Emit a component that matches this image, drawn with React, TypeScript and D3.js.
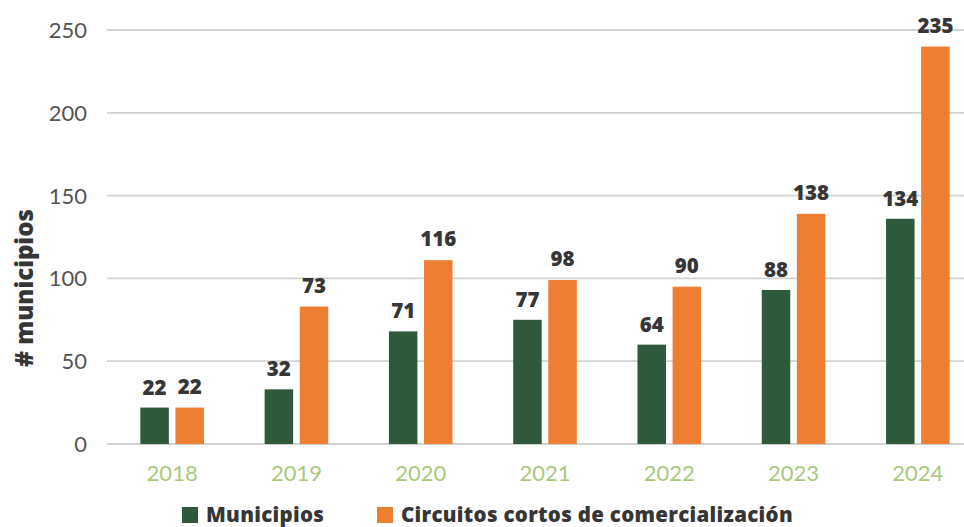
import React from 'react';
import * as d3 from 'd3';

// values
const years = ['2018', '2019', '2020', '2021', '2022', '2023', '2024'];
// printed labels
const municipiosLabels = [22, 32, 71, 77, 64, 88, 134];
const circuitosLabels = [22, 73, 116, 98, 90, 138, 235];
// drawn bar heights (the source bars don't match the labels exactly)
const municipiosBars = [22, 33, 68, 75, 60, 93, 136];
const circuitosBars = [22, 83, 111, 99, 95, 139, 240];
const yTicks = [0, 50, 100, 150, 200, 250];
const seriesNames = ['Municipios', 'Circuitos cortos de comercialización'];

const GREEN = '#2e5a3b';
const ORANGE = '#ee7e31';
const TEXT = '#363636';

const width = 964;
const height = 527;

const App: React.FC = () => {
	const x = d3.scaleBand<string>()
		.domain(years)
		.range([110, 980]);

	const y = d3.scaleLinear()
		.domain([0, 250])
		.range([444, 30]);

	const barW = 28.5;
	const gap = 3.3;

	const tickFont = 'Lato, "Open Sans", sans-serif';
	const boldFont = '"Open Sans", Lato, sans-serif';

	return (
		<svg width={width} height={height} style={{ position: 'absolute', left: 0, top: 0, background: '#fff' }}>
			{/* grid */}
			{yTicks.map(t => (
				<g key={t}>
					<line x1={107} x2={964} y1={y(t)} y2={y(t)} stroke="#d2d2d2" strokeWidth={1.8} />
					<text x={87} y={y(t)} dy="0.36em" textAnchor="end" fontFamily={tickFont}
						fontSize={22} fill="#555">{t}</text>
				</g>
			))}

			{/* bars */}
			{years.map((yr, i) => {
				const c = (x(yr) ?? 0) + x.bandwidth() / 2;
				const gx = c - gap - barW;
				const ox = c + gap;
				return (
					<g key={yr}>
						<rect x={gx} y={y(municipiosBars[i])} width={barW} height={y(0) - y(municipiosBars[i])} fill={GREEN} />
						<rect x={ox} y={y(circuitosBars[i])} width={barW} height={y(0) - y(circuitosBars[i])} fill={ORANGE} />
						<text x={gx + barW / 2} y={y(municipiosBars[i]) - 13} textAnchor="middle" fontFamily={boldFont}
							fontWeight={800} fontSize={20.5} fill={TEXT}>{municipiosLabels[i]}</text>
						<text x={ox + barW / 2} y={y(circuitosBars[i]) - 14} textAnchor="middle" fontFamily={boldFont}
							fontWeight={800} fontSize={20.5} fill={TEXT}>{circuitosLabels[i]}</text>
						<text x={c} y={481} textAnchor="middle" fontFamily={tickFont}
							fontSize={22} fill="#a8c97c">{yr}</text>
					</g>
				);
			})}

			{/* axis title */}
			<text transform={`translate(33,288) rotate(-90)`} textAnchor="middle" fontFamily={boldFont}
				fontWeight={800} fontSize={24} fill={TEXT}>{'# municipios'}</text>

			{/* legend */}
			<rect x={182} y={507} width={16} height={16} fill={GREEN} />
			<text x={206} y={522} fontFamily={boldFont} fontWeight={800} fontSize={20.5} letterSpacing={0.3} fill={TEXT}>{seriesNames[0]}</text>
			<rect x={377} y={507} width={16} height={16} fill={ORANGE} />
			<text x={401} y={522} fontFamily={boldFont} fontWeight={800} fontSize={20.5} letterSpacing={0.3} fill={TEXT}>{seriesNames[1]}</text>
		</svg>
	);
};

export default App;
